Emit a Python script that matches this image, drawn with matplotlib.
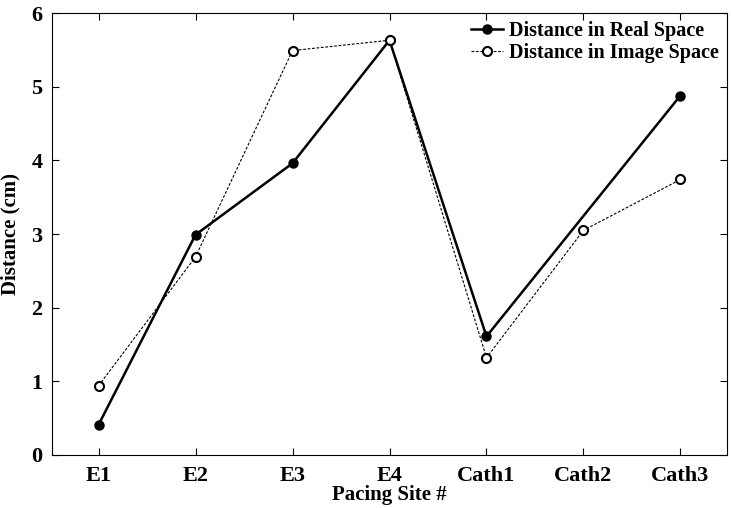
import matplotlib
matplotlib.use('Agg')
import matplotlib.pyplot as plt
import numpy as np

sites = ['E1', 'E2', 'E3', 'E4', 'Cath1', 'Cath2', 'Cath3']
# real space has no value at Cath2
real_sites = ['E1', 'E2', 'E3', 'E4', 'Cath1', 'Cath3']
real_dist = [0.41, 2.99, 3.96, 5.63, 1.61, 4.88]
image_dist = [0.94, 2.69, 5.49, 5.63, 1.32, 3.05, 3.74]

plt.rcParams['font.family'] = ['Liberation Serif', 'DejaVu Serif']
plt.rcParams['font.weight'] = 'bold'

fig = plt.figure(figsize=(7.31, 5.08), dpi=100)
ax = fig.add_axes([52 / 731, 1 - 455 / 508, 675 / 731, 442 / 508])

xpos = {s: i + 1 for i, s in enumerate(sites)}
ax.plot([xpos[s] for s in real_sites], real_dist, color='black', lw=1.8,
        marker='o', ms=6.5, mfc='black', mec='black',
        label='Distance in Real Space')
ax.plot([xpos[s] for s in sites], image_dist, color='black', lw=0.8,
        ls=(0, (2.5, 1.5)), marker='o', ms=6.5, mfc='white', mec='black',
        mew=1.5, label='Distance in Image Space')

ax.set_xlim(0.52, 7.48)
ax.set_ylim(0, 6)
ax.set_xticks(range(1, len(sites) + 1))
ax.set_xticklabels(sites)
ax.set_yticks(range(0, 7))
ax.tick_params(direction='in', top=True, right=True, labelsize=16, length=5,
               width=0.8, pad=7)
ax.tick_params(axis='x', pad=8)
for lab in ax.get_xticklabels() + ax.get_yticklabels():
    lab.set_fontweight('bold')
for sp in ax.spines.values():
    sp.set_linewidth(0.8)

ax.set_xlabel('Pacing Site #', fontsize=15, fontweight='bold')
ax.xaxis.set_label_coords(0.5, -0.068)
ax.set_ylabel('Distance (cm)', fontsize=15, fontweight='bold', labelpad=8)

leg = ax.legend(loc='upper right', frameon=False,
                handlelength=1.6, handletextpad=0.3, borderaxespad=0.0,
                labelspacing=0.1, prop={'weight': 'bold', 'size': 14.5})

fig.savefig('out.png', dpi=100)
